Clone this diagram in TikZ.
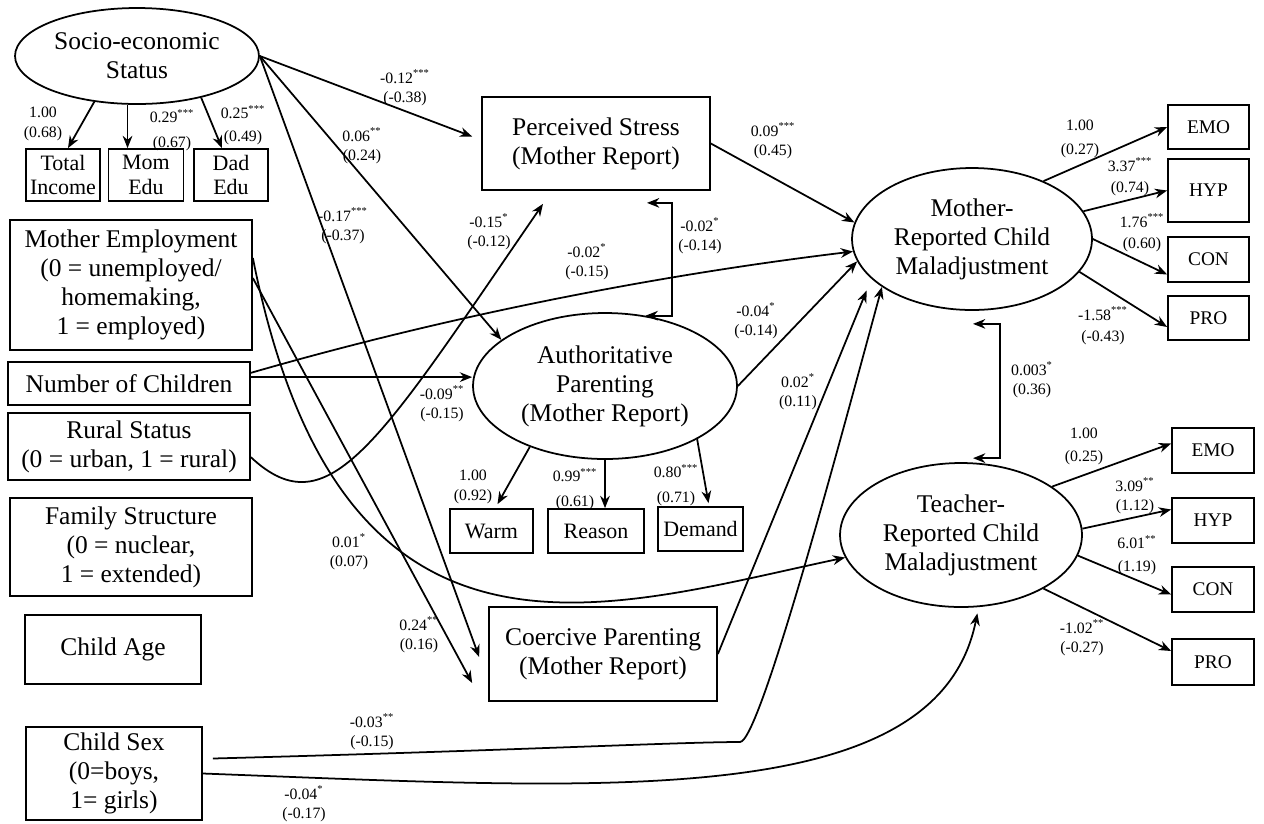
\documentclass[tikz,border=0pt]{standalone}
\usepackage{fontspec}
\setmainfont{Liberation Serif}
\usetikzlibrary{shapes.geometric, calc, arrows.meta}

\begin{document}
\begin{tikzpicture}[
    x=0.02cm, y=-0.02cm,
    box/.style={rectangle, draw=black, line width=1pt, align=center, inner sep=0pt, font=\fontsize{14.5}{16.5}\selectfont},
    smallbox/.style={box, font=\fontsize{12.5}{14}\selectfont},
    itembox/.style={box, font=\fontsize{11}{13}\selectfont, minimum width=1.62cm, minimum height=0.88cm},
    latent/.style={ellipse, draw=black, line width=1pt, align=center, inner sep=0pt, font=\fontsize{14.5}{16.5}\selectfont},
    coef/.style={align=center, inner sep=0pt, font=\fontsize{9}{11}\selectfont},
    arrow/.style={line width=1pt, ->, >={Stealth[length=7pt,width=5.5pt]}},
    dblarrow/.style={arrow, <->}
]
\useasboundingbox (0,0) rectangle (1264,823);

% Nodes
\node (ses) [latent, minimum width=4.88cm, minimum height=1.92cm] at (137,56) {Socio-economic\\Status};
\node (totinc) [smallbox, minimum width=1.48cm, minimum height=1.04cm] at (63,175) {Total\\Income};
\node (momedu) [smallbox, minimum width=1.5cm, minimum height=1.04cm] at (146,175) {Mom\\Edu};
\node (dadedu) [smallbox, minimum width=1.48cm, minimum height=1.04cm] at (231,175) {Dad\\Edu};
\node (momemp) [box, minimum width=4.84cm, minimum height=2.6cm] at (131,285) {Mother Employment\\(0 = unemployed/\\homemaking,\\1 = employed)};
\node (nchild) [box, minimum width=4.84cm, minimum height=0.86cm] at (129,383.5) {Number of Children};
\node (rural) [box, minimum width=4.84cm, minimum height=1.34cm] at (129,446.5) {Rural Status\\(0 = urban, 1 = rural)};
\node (famstr) [box, minimum width=4.84cm, minimum height=1.96cm] at (131,547) {Family Structure\\(0 = nuclear,\\1 = extended)};
\node (childage) [box, minimum width=3.52cm, minimum height=1.38cm] at (113,649.5) {Child Age};
\node (childsex) [box, minimum width=3.52cm, minimum height=1.86cm] at (114,773.5) {Child Sex\\(0=boys,\\1= girls)};

\node (stress) [box, minimum width=4.56cm, minimum height=1.86cm] at (596,143.5) {Perceived Stress\\(Mother Report)};
\node (auth) [latent, minimum width=5.28cm, minimum height=2.92cm] at (605,386) {Authoritative\\Parenting\\(Mother Report)};
\node (warm) [smallbox, minimum width=1.66cm, minimum height=0.88cm] at (491.5,531) {Warm};
\node (reason) [smallbox, minimum width=1.92cm, minimum height=0.88cm] at (596,531) {Reason};
\node (demand) [smallbox, minimum width=1.7cm, minimum height=0.88cm] at (700.5,529) {Demand};
\node (coercive) [box, minimum width=4.56cm, minimum height=1.88cm] at (603,654) {Coercive Parenting\\(Mother Report)};

\node (mother) [latent, minimum width=4.8cm, minimum height=2.84cm] at (972,239) {Mother-\\Reported Child\\Maladjustment};
\node (teacher) [latent, minimum width=4.84cm, minimum height=2.88cm] at (961,535) {Teacher-\\Reported Child\\Maladjustment};

\node (mEMO) [itembox] at (1208.5,127) {EMO};
\node (mHYP) [itembox, minimum height=1.26cm] at (1208.5,190.5) {HYP};
\node (mCON) [itembox, minimum height=0.9cm] at (1208.5,259.5) {CON};
\node (mPRO) [itembox] at (1208.5,318) {PRO};
\node (tEMO) [itembox, minimum width=1.64cm, minimum height=0.9cm] at (1213,450.5) {EMO};
\node (tHYP) [itembox, minimum width=1.64cm, minimum height=0.9cm] at (1213,520.5) {HYP};
\node (tCON) [itembox, minimum width=1.64cm, minimum height=0.9cm] at (1213,589.5) {CON};
\node (tPRO) [itembox, minimum width=1.64cm, minimum height=0.92cm] at (1213,662) {PRO};

\coordinate (sexbend) at (740,742);

% Arrows
\draw [arrow] (ses.227) -- ($(totinc.north)+(5,0)$);
\draw [arrow] (ses.259) -- (ses.259 |- momedu.north);
\draw [arrow] (ses.327) -- ($(dadedu.north)+(-9,0)$);
\draw [arrow] (ses.east) -- ($(stress.west)+(-9,-7)$);
\draw [arrow] (ses.east) -- (auth.156);
\draw [arrow] (ses.east) -- ($(coercive.west)+(-9,3)$);
\draw [arrow] ($(momemp.east)+(0,-7)$) -- ($(coercive.west)+(-16,29)$);
\draw [arrow] ($(momemp.east)+(0,-27)$) .. controls +(88,442) and +(-245,52) .. (teacher.191);
\draw [arrow] (nchild.3) -- (nchild.3 -| auth.west);
\draw [arrow] (nchild.5) .. controls +(194,-56) and +(-200,24) .. (mother.186);
\draw [arrow] (rural.-5) .. controls +(78,73) and +(-163,237) .. ($(stress.south)+(-53,13)$);
\draw [arrow] (stress.east) -- (mother.172);
\draw [dblarrow] ($(stress.south)+(51,12)$) -- ++(25,0) |- (auth.60);
\draw [arrow] (auth.east) -- (mother.191);
\draw [arrow] (coercive.east) -- ($(mother.206)+(-12,6)$);
\draw [arrow] ($(childsex.east)+(10,-15)$) .. controls +(300,-8) and +(-60,0) .. (sexbend) .. controls +(20,0) and +(-40,147) .. (mother.208);
\draw [arrow] (childsex.east) .. controls +(400,15) and +(-40,200) .. ($(teacher.282)+(1,6)$);
\draw [dblarrow] ($(mother.south)+(1,13)$) -- ++(27,0) |- ($(teacher.north)+(12,-4)$);

\draw [arrow] (auth.219) -- ($(warm.north)+(6,-4)$);
\draw [arrow] (auth.south) -- (auth.south |- reason.north);
\draw [arrow] (auth.330) -- ($(demand.north)+(8,-3)$);

\draw [arrow] (mother.39) -- (mEMO.west);
\draw [arrow] (mother.14) -- (mHYP.west);
\draw [arrow] (mother.east) -- ($(mCON.west)+(0,15)$);
\draw [arrow] (mother.343) -- ($(mPRO.west)+(0,9)$);
\draw [arrow] (teacher.28) -- ($(tEMO.west)+(0,-7)$);
\draw [arrow] (teacher.3) -- ($(tHYP.west)+(0,-11)$);
\draw [arrow] (teacher.350) -- ($(tCON.west)+(0,5)$);
\draw [arrow] (teacher.327) -- ($(tPRO.west)+(0,-11)$);

% Coefficients
\node (cTotinc) [coef] at (43,124) {1.00\\(0.68)};
\node (cMomedu) [coef] at (172,130) {0.29\textsuperscript{***}\\[3pt](0.67)};
\node (cDadedu) [coef] at (243,125) {0.25\textsuperscript{***}\\[2pt](0.49)};
\node (cSesStress) [coef] at (405,88) {-0.12\textsuperscript{***}\\(-0.38)};
\node (cSesAuth) [coef] at (362,146) {0.06\textsuperscript{**}\\(0.24)};
\node (cSesCoer) [coef] at (343,226) {-0.17\textsuperscript{***}\\(-0.37)};
\node (cRuralStress) [coef] at (489,232) {-0.15\textsuperscript{*}\\(-0.12)};
\node (cNchildMother) [coef] at (587,262) {-0.02\textsuperscript{*}\\(-0.15)};
\node (cStressAuth) [coef] at (700,236) {-0.02\textsuperscript{*}\\(-0.14)};
\node (cStressMother) [coef] at (773,141) {0.09\textsuperscript{***}\\(0.45)};
\node (cAuthMother) [coef] at (756,321) {-0.04\textsuperscript{*}\\(-0.14)};
\node (cCoerMother) [coef] at (798,392) {0.02\textsuperscript{*}\\(0.11)};
\node (cNchildAuth) [coef] at (442,404) {-0.09\textsuperscript{**}\\(-0.15)};
\node (cMomempTeacher) [coef] at (349,552) {0.01\textsuperscript{*}\\(0.07)};
\node (cMomempCoer) [coef] at (419,635) {0.24\textsuperscript{**}\\(0.16)};
\node (cSexMother) [coef] at (372,732) {-0.03\textsuperscript{**}\\(-0.15)};
\node (cSexTeacher) [coef] at (304,804) {-0.04\textsuperscript{*}\\(-0.17)};
\node (cMotherTeacher) [coef] at (1032,380) {0.003\textsuperscript{*}\\(0.36)};
\node (cWarm) [coef] at (473,487) {1.00\\(0.92)};
\node (cReason) [coef] at (575,489) {0.99\textsuperscript{***}\\[3pt](0.61)};
\node (cDemand) [coef] at (676,485) {0.80\textsuperscript{***}\\[3pt](0.71)};
\node (cmEMO) [coef] at (1080,139) {1.00\\[3pt](0.27)};
\node (cmHYP) [coef] at (1130,177) {3.37\textsuperscript{***}\\[1pt](0.74)};
\node (cmCON) [coef] at (1142,233) {1.76\textsuperscript{***}\\[1pt](0.60)};
\node (cmPRO) [coef] at (1103,326) {-1.58\textsuperscript{***}\\[1pt](-0.43)};
\node (ctEMO) [coef] at (1084,446) {1.00\\[2pt](0.25)};
\node (ctHYP) [coef] at (1135,496) {3.09\textsuperscript{**}\\(1.12)};
\node (ctCON) [coef] at (1137,555) {6.01\textsuperscript{**}\\[2pt](1.19)};
\node (ctPRO) [coef] at (1082,638) {-1.02\textsuperscript{**}\\(-0.27)};

\end{tikzpicture}
\end{document}
